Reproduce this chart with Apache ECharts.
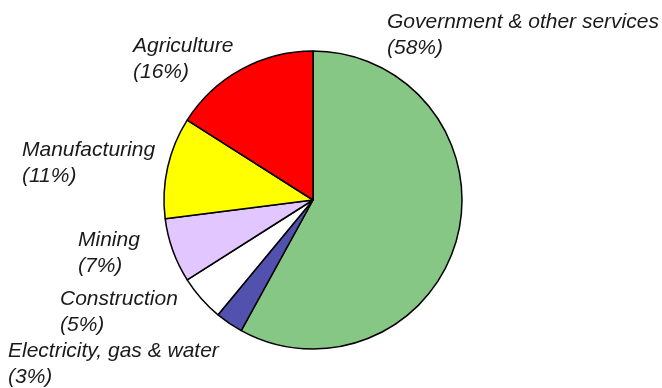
<!DOCTYPE html>
<html>
<head>
<meta charset="utf-8">
<script src="https://cdn.jsdelivr.net/npm/echarts@6/dist/echarts.min.js"></script>
<style>
  html, body { margin: 0; padding: 0; background: #fff; }
  #container { width: 662px; height: 388px; }
</style>
</head>
<body>
<div id="container"></div>
<script>
var categories = ['Government & other services', 'Electricity, gas & water', 'Construction', 'Mining', 'Manufacturing', 'Agriculture'];
var shares = [58, 3, 5, 7, 11, 16];
var sliceColors = ['#86c786', '#5252ae', '#ffffff', '#e2c6ff', '#ffff00', '#ff0000'];
// where each label block starts (left, top)
var labelPos = [[387, 9], [8, 338], [60, 286], [78, 227], [22, 137], [133, 33]];

var dom = document.getElementById('container');
var myChart = echarts.init(dom);

var data = categories.map(function (name, i) {
    return { name: name, value: shares[i], itemStyle: { color: sliceColors[i] } };
});

var option = {
    animation: false,
    series: [{
        type: 'pie',
        center: [313, 200],
        radius: 149,
        startAngle: 90,
        clockwise: true,
        data: data,
        itemStyle: {
            borderColor: '#000',
            borderWidth: 1.5
        },
        label: {
            show: true,
            formatter: function (p) { return p.name + '\n(' + p.value + '%)'; },
            fontFamily: 'Liberation Sans, Arial, sans-serif',
            fontStyle: 'italic',
            fontSize: 21,
            lineHeight: 26,
            color: '#1a1a1a',
            align: 'left',
            overflow: 'none'
        },
        labelLine: { show: false },
        labelLayout: function (params) {
            var p = labelPos[params.dataIndex];
            return { x: p[0], y: p[1], align: 'left', verticalAlign: 'top' };
        }
    }]
};

myChart.setOption(option);
</script>
</body>
</html>
